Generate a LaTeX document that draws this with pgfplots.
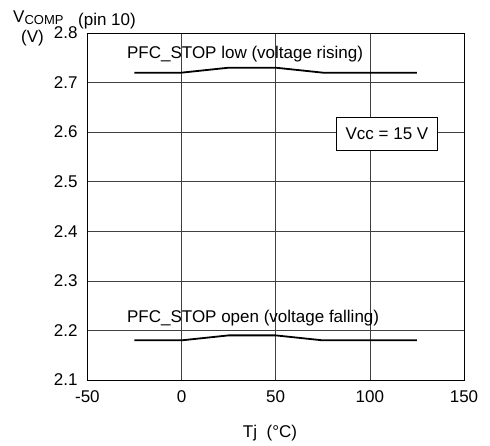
\documentclass[border=0pt]{standalone}
\usepackage{fontspec}
\setmainfont{Liberation Sans}
\usepackage{pgfplots}
\pgfplotsset{compat=1.18}
\begin{document}
\fontsize{17}{20}\selectfont
\begin{tikzpicture}
\begin{axis}[
    at={(0pt,0pt)}, anchor=south west,
    scale only axis,
    width=376.6pt, height=347pt,
    xmin=-50, xmax=150, ymin=2.1, ymax=2.8,
    xtick={-50,0,50,100,150},
    ytick={2.1,2.2,2.3,2.4,2.5,2.6,2.7,2.8},
    yticklabel style={/pgf/number format/fixed, /pgf/number format/fixed zerofill, /pgf/number format/precision=1, xshift=-4pt},
    /pgf/number format/assume math mode=true,
    major tick length=0pt,
    xticklabel style={yshift=-5pt},
    grid=major,
    grid style={black!75, line width=0.6pt},
    axis line style={black, line width=0.8pt},
    tick label style={font=\fontsize{17}{20}\selectfont},
    clip=false,
]
% PFC_STOP low (voltage rising)
\addplot[black, line width=1.8pt] coordinates {
    (-25,2.72) (0,2.72) (25,2.73) (50,2.73) (75,2.72) (100,2.72) (125,2.72)
};
% PFC_STOP open (voltage falling)
\addplot[black, line width=1.8pt] coordinates {
    (-25,2.18) (0,2.18) (25,2.19) (50,2.19) (75,2.18) (100,2.18) (125,2.18)
};
\node[anchor=base west, inner sep=0pt] at (axis cs:-29,2.749) {PFC\_STOP low (voltage rising)};
\node[anchor=base west, inner sep=0pt] at (axis cs:-29,2.216) {PFC\_STOP open (voltage falling)};
\node[draw=black, fill=white, line width=0.7pt, inner sep=0pt, minimum width=101pt, minimum height=33pt] at (axis cs:109.1,2.597) {Vcc = 15 V};
\end{axis}
% axis labels
\node[anchor=base west, inner sep=0pt] at (-74.4pt,357pt) {V\raisebox{-2pt}{\fontsize{13}{15}\selectfont COMP}};
\node[anchor=base west, inner sep=0pt] at (-9.4pt,354pt) {(pin 10)};
\node[anchor=base west, inner sep=0pt] at (-66.4pt,337pt) {(V)};
\node[anchor=base, inner sep=0pt] at (182.6pt,-57pt) {Tj \ (°C)};
\path[use as bounding box] (-87.4pt,-65pt) rectangle (402.6pt,380pt);
\end{tikzpicture}
\end{document}
